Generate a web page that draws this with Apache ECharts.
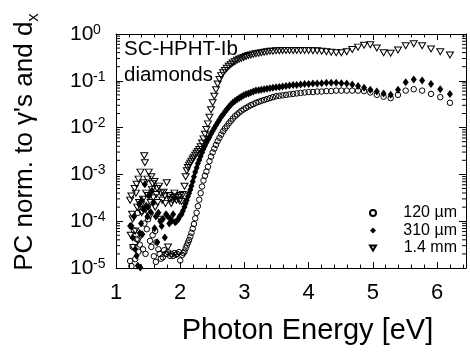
<!DOCTYPE html>
<html><head><meta charset="utf-8">
<script src="https://cdn.jsdelivr.net/npm/echarts@6/dist/echarts.min.js"></script>
<style>html,body{margin:0;padding:0;background:#fff}#c{width:470px;height:352px}</style>
</head><body><div id="c"></div>
<script>
// Photon energies (eV) of the smooth part, shared by the three samples
const energyMain = [2.067,2.084,2.102,2.120,2.138,2.157,2.175,2.195,2.214,2.234,2.255,2.275,2.296,2.318,2.340,2.362,2.385,2.408,2.431,2.455,2.480,2.505,2.531,2.557,2.583,2.611,2.638,2.667,2.696,2.725,2.756,2.787,2.818,2.851,2.884,2.918,2.952,2.988,3.024,3.062,3.100,3.139,3.179,3.221,3.263,3.307,3.351,3.397,3.444,3.493,3.543,3.594,3.647,3.701,3.758,3.815,3.875,3.937,4.000,4.066,4.133,4.203,4.276,4.351,4.429,4.509,4.593,4.679,4.769,4.863,4.960,5.061,5.167,5.277,5.391,5.511,5.636,5.767,5.905,6.049,6.200];
const pc120Main = [2.24e-5,2.63e-5,3.02e-5,3.47e-5,3.98e-5,4.68e-5,5.62e-5,6.92e-5,8.71e-5,1.15e-4,1.51e-4,2.09e-4,2.88e-4,3.98e-4,5.50e-4,7.41e-4,9.33e-4,1.15e-3,1.45e-3,1.91e-3,2.40e-3,2.95e-3,3.55e-3,4.27e-3,5.13e-3,6.03e-3,7.08e-3,8.32e-3,9.55e-3,1.07e-2,1.23e-2,1.38e-2,1.55e-2,1.74e-2,1.91e-2,2.09e-2,2.29e-2,2.45e-2,2.63e-2,2.82e-2,3.02e-2,3.16e-2,3.39e-2,3.55e-2,3.72e-2,3.89e-2,4.07e-2,4.27e-2,4.47e-2,4.68e-2,4.79e-2,4.90e-2,5.01e-2,5.13e-2,5.25e-2,5.37e-2,5.50e-2,5.62e-2,5.75e-2,5.75e-2,5.89e-2,5.89e-2,6.03e-2,6.03e-2,6.17e-2,6.17e-2,6.17e-2,6.17e-2,6.17e-2,6.03e-2,5.62e-2,5.01e-2,4.57e-2,4.27e-2,5.01e-2,6.17e-2,6.61e-2,6.17e-2,5.25e-2,4.47e-2,3.39e-2];
const pc310Main = [2.0e-4,2.4e-4,2.82e-4,3.39e-4,3.98e-4,4.68e-4,5.62e-4,7.08e-4,8.91e-4,1.12e-3,1.38e-3,1.70e-3,2.04e-3,2.45e-3,2.95e-3,3.47e-3,4.07e-3,4.79e-3,5.50e-3,6.31e-3,7.41e-3,8.51e-3,9.77e-3,1.12e-2,1.29e-2,1.48e-2,1.70e-2,1.91e-2,2.19e-2,2.45e-2,2.75e-2,3.09e-2,3.39e-2,3.72e-2,3.98e-2,4.27e-2,4.57e-2,4.90e-2,5.13e-2,5.37e-2,5.62e-2,5.89e-2,6.17e-2,6.31e-2,6.46e-2,6.61e-2,6.76e-2,6.92e-2,7.08e-2,7.24e-2,7.41e-2,7.59e-2,7.76e-2,7.94e-2,8.13e-2,8.13e-2,8.32e-2,8.51e-2,8.51e-2,8.71e-2,8.71e-2,8.91e-2,9.12e-2,9.12e-2,9.12e-2,8.91e-2,8.71e-2,8.32e-2,7.76e-2,7.08e-2,6.46e-2,5.89e-2,5.37e-2,5.01e-2,6.46e-2,9.33e-2,0.107,0.102,8.51e-2,6.61e-2,5.25e-2];
const pc14Main = [5.6e-4,8.9e-4,1.2e-3,1.41e-3,1.58e-3,1.74e-3,1.91e-3,2.14e-3,2.34e-3,2.57e-3,2.82e-3,3.09e-3,3.39e-3,3.89e-3,4.68e-3,5.75e-3,7.24e-3,9.12e-3,1.2e-2,1.66e-2,2.4e-2,3.39e-2,4.68e-2,6.46e-2,8.51e-2,0.107,0.129,0.148,0.166,0.186,0.204,0.224,0.240,0.257,0.275,0.288,0.302,0.316,0.331,0.347,0.355,0.372,0.380,0.389,0.398,0.407,0.417,0.427,0.427,0.437,0.437,0.447,0.447,0.447,0.447,0.447,0.447,0.447,0.447,0.437,0.437,0.427,0.417,0.407,0.398,0.398,0.417,0.468,0.525,0.575,0.589,0.501,0.398,0.389,0.457,0.562,0.617,0.562,0.479,0.417,0.355];

// Noisy low-energy part, one array pair per sample
const lowE120 = [1.22,1.24,1.26,1.28,1.30,1.32,1.34,1.35,1.37,1.39,1.40,1.42,1.44,1.46,1.48,1.50,1.53,1.55,1.57,1.59,1.61,1.62,1.63,1.66,1.68,1.70,1.73,1.75,1.77,1.79,1.81,1.84,1.86,1.89,1.91,1.93,1.95,1.98,2.00,2.03,2.05];
const lowV120 = [1.41e-5,1.10e-5,2.82e-5,6.31e-5,1.55e-5,4.17e-5,1.51e-4,2.24e-5,3.16e-5,5.25e-5,1.66e-4,2.51e-5,8.91e-5,2.00e-5,6.76e-5,1.10e-4,3.80e-5,2.82e-5,5.01e-5,1.78e-5,6.17e-5,1.35e-5,3.55e-5,2.51e-5,2.00e-5,1.58e-5,1.70e-5,2.40e-5,2.00e-5,2.00e-5,2.19e-5,1.82e-5,2.00e-5,1.82e-5,2.09e-5,1.91e-5,2.00e-5,2.19e-5,1.45e-5,1.91e-5,2.09e-5];
const lowE310 = [1.22,1.24,1.26,1.28,1.30,1.32,1.34,1.36,1.37,1.38,1.39,1.40,1.41,1.43,1.45,1.47,1.49,1.50,1.52,1.54,1.56,1.58,1.60,1.62,1.64,1.66,1.69,1.71,1.73,1.76,1.78,1.80,1.83,1.85,1.87,1.89,1.92,1.94,1.97,1.99,2.02,2.04];
const lowV310 = [7.94e-5,7.94e-5,4.47e-5,1.26e-4,2.51e-5,1.82e-5,1.12e-5,2.29e-4,5.62e-5,1.02e-5,8.91e-5,2.82e-4,5.25e-5,1.78e-4,6.17e-4,2.14e-4,1.26e-4,2.00e-4,3.55e-4,1.58e-4,4.47e-4,2.51e-4,7.08e-5,1.26e-4,3.55e-5,1.51e-4,1.00e-4,7.94e-5,1.12e-4,4.47e-5,1.41e-4,1.29e-4,8.91e-5,1.12e-4,1.02e-4,1.41e-4,9.55e-5,1.00e-4,1.10e-4,1.26e-4,1.41e-4,1.66e-4];
const lowE14 = [1.22,1.23,1.24,1.25,1.26,1.27,1.29,1.30,1.31,1.32,1.33,1.34,1.35,1.36,1.38,1.39,1.40,1.42,1.43,1.44,1.45,1.46,1.47,1.49,1.50,1.51,1.53,1.54,1.55,1.56,1.57,1.58,1.60,1.61,1.63,1.64,1.65,1.67,1.69,1.70,1.72,1.74,1.76,1.77,1.79,1.81,1.83,1.84,1.86,1.88,1.89,1.91,1.93,1.94,1.97,1.99,2.00,2.02,2.04];
const lowV14 = [2.82e-4,5.01e-5,3.47e-4,1.41e-4,1.12e-4,2.75e-5,5.01e-4,6.17e-5,3.98e-4,6.17e-4,2.00e-4,3.80e-5,7.94e-4,2.51e-4,1.12e-3,2.24e-4,1.51e-4,2.95e-4,6.61e-4,2.51e-3,1.78e-3,1.78e-4,3.98e-4,7.94e-4,3.55e-4,1.12e-3,1.29e-4,2.51e-4,8.91e-4,4.79e-4,6.31e-4,3.16e-4,7.08e-4,2.00e-4,3.72e-4,5.01e-4,2.51e-4,5.62e-4,1.10e-4,3.98e-4,2.82e-4,4.17e-4,3.47e-4,2.40e-4,6.61e-4,2.82e-5,3.55e-4,2.95e-4,2.40e-4,2.82e-4,3.24e-4,3.98e-4,3.31e-4,2.82e-4,3.24e-4,2.75e-4,3.55e-4,2.63e-4,3.72e-4];

const seriesNames = ['120 µm', '310 µm', '1.4 mm'];
const xMin = 1, xMax = 6.45;
const yMin = 1e-5, yMax = 1;
const annotation = 'SC-HPHT-Ib\ndiamonds';

const FONT = "'Liberation Sans', Arial, Helvetica, sans-serif";
const zip = (xs, ys) => xs.map((x, i) => [x, ys[i]]);

// measure legend texts so they can be right-aligned with icons kept in one column
const ctx = document.createElement('canvas').getContext('2d');
ctx.font = '16px ' + FONT;
const spaceW = ctx.measureText(' ').width;
const LEG_W = 76;
const legPad = {};
seriesNames.forEach(n => { legPad[n] = Math.max(1, LEG_W - ctx.measureText(n).width); });

// log minor tick values (2..9 per decade)
const minorVals = [];
for (let d = -5; d < 0; d++) for (let m = 2; m <= 9; m++) minorVals.push(m * Math.pow(10, d));

const chart = echarts.init(document.getElementById('c'), null, {renderer: 'canvas'});
const axisLine = {show: true, onZero: false, lineStyle: {color: '#000', width: 1}};
const TRI = 'path://M0,0L10,0L5,8.66Z';

const legendRich = {};
seriesNames.forEach((n, i) => {
  legendRich['p' + i] = {width: legPad[n], fontSize: 16, lineHeight: 18, fontFamily: FONT, color: 'rgba(0,0,0,0)'};
  legendRich['t' + i] = {fontSize: 16, lineHeight: 18, fontFamily: FONT, color: '#000'};
});

chart.setOption({
  animation: false,
  backgroundColor: '#fff',
  grid: {left: 116, right: 4, top: 34, bottom: 84, containLabel: false, outerBoundsMode: 'none'},
  legend: {
    data: seriesNames, orient: 'vertical', right: 13, top: 205, padding: 0,
    itemWidth: 6, itemHeight: 6, itemGap: 1.5, selectedMode: false,
    formatter: n => { const i = seriesNames.indexOf(n); return '{p' + i + '|.}{t' + i + '|' + n + '}'; },
    textStyle: {color: '#000', fontFamily: FONT, fontSize: 16, rich: legendRich}
  },
  graphic: [{
    type: 'text', left: 124, top: 36, silent: true,
    style: {text: annotation, font: '20.5px ' + FONT, lineHeight: 26.5, fill: '#000'}
  }],
  xAxis: [{
    type: 'value', min: xMin, max: xMax, interval: 1, position: 'bottom',
    axisLine: axisLine,
    axisTick: {show: true, inside: true, length: 6, lineStyle: {color: '#000'}},
    minorTick: {show: true, splitNumber: 5, length: 3.5, lineStyle: {color: '#000'}},
    axisLabel: {show: true, margin: 14, color: '#000', fontSize: 22, fontFamily: FONT, showMaxLabel: false, showMinLabel: true},
    splitLine: {show: false}, minorSplitLine: {show: false},
    name: 'Photon Energy [eV]', nameLocation: 'middle', nameGap: 48, nameMoveOverlap: false,
    nameTextStyle: {fontSize: 29, color: '#000', fontFamily: FONT, padding: [0, 0, 0, 33]}
  }, {
    type: 'value', min: xMin, max: xMax, interval: 1, position: 'top',
    axisLine: axisLine,
    axisTick: {show: true, inside: true, length: 6, lineStyle: {color: '#000'}},
    minorTick: {show: true, splitNumber: 5, length: 3.5, lineStyle: {color: '#000'}},
    axisLabel: {show: false}, splitLine: {show: false}
  }],
  yAxis: [{
    type: 'log', logBase: 10, min: yMin, max: yMax, position: 'left',
    axisLine: axisLine,
    axisTick: {show: true, inside: true, length: 7, lineStyle: {color: '#000'}},
    minorTick: {show: false},
    axisLabel: {
      margin: 8, color: '#000', fontFamily: FONT,
      formatter: v => '{b|10}{s|' + Math.round(Math.log10(v)) + '}',
      rich: {
        b: {fontSize: 21, lineHeight: 22, width: 23, align: 'left', fontFamily: FONT, color: '#000'},
        s: {fontSize: 14, lineHeight: 14, width: 15, align: 'left', verticalAlign: 'top', fontFamily: FONT, color: '#000'}
      }
    },
    splitLine: {show: false},
    name: "{a|PC norm. to γ's and d}{b|x}", nameLocation: 'middle', nameRotate: 90, nameGap: 78, nameMoveOverlap: false,
    nameTextStyle: {
      color: '#000', fontFamily: FONT, padding: [0, 0, 0, 18],
      rich: {
        a: {fontSize: 26, lineHeight: 26, verticalAlign: 'top', fontFamily: FONT, color: '#000'},
        b: {fontSize: 17, lineHeight: 17, padding: [13, 0, 0, 0], verticalAlign: 'top', fontFamily: FONT, color: '#000'}
      }
    }
  }, {
    type: 'log', logBase: 10, min: yMin, max: yMax, position: 'right',
    axisLine: axisLine,
    axisTick: {show: true, inside: true, length: 7, lineStyle: {color: '#000'}},
    axisLabel: {show: false}, splitLine: {show: false}
  }],
  series: [{
    name: seriesNames[0], type: 'scatter', symbol: 'circle', symbolSize: 5.5,
    itemStyle: {color: 'rgba(255,255,255,0)', borderColor: '#000', borderWidth: 1, opacity: 1},
    data: zip(lowE120, lowV120).concat(zip(energyMain, pc120Main)), silent: true
  }, {
    name: seriesNames[1], type: 'scatter', symbol: 'diamond', symbolSize: [6, 8],
    itemStyle: {color: '#000', borderColor: '#000', borderWidth: 0, opacity: 1},
    data: zip(lowE310, lowV310).concat(zip(energyMain, pc310Main)), silent: true
  }, {
    name: seriesNames[2], type: 'scatter', symbol: TRI, symbolSize: [7, 6],
    itemStyle: {color: 'rgba(255,255,255,0)', borderColor: '#000', borderWidth: 1, opacity: 1},
    data: zip(lowE14, lowV14).concat(zip(energyMain, pc14Main)), silent: true
  }, {
    type: 'custom', coordinateSystem: 'cartesian2d', silent: true, clip: false,
    data: minorVals.map(v => [xMin, v]),
    renderItem: function (params, api) {
      const v = api.value(1);
      const p0 = api.coord([xMin, v]);
      const p1 = api.coord([xMax, v]);
      return {type: 'group', children: [
        {type: 'line', shape: {x1: p0[0], y1: p0[1], x2: p0[0] + 4, y2: p0[1]}, style: {stroke: '#000', lineWidth: 1}},
        {type: 'line', shape: {x1: p1[0], y1: p1[1], x2: p1[0] - 4, y2: p1[1]}, style: {stroke: '#000', lineWidth: 1}}
      ]};
    }
  }]
});
</script>
</body></html>
